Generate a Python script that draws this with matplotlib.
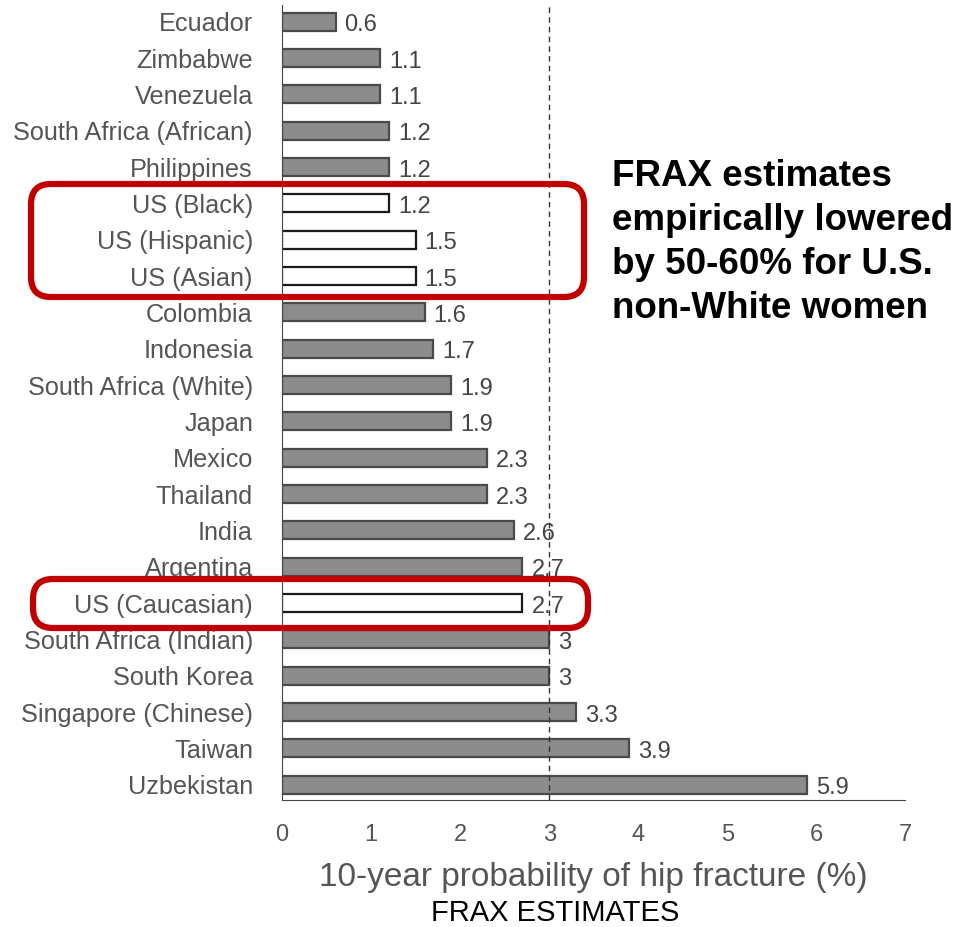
import matplotlib
matplotlib.use("Agg")
import matplotlib.pyplot as plt
from matplotlib.patches import FancyBboxPatch

plt.rcParams['font.family'] = ['Liberation Sans', 'DejaVu Sans']

# FRAX 10-year hip fracture probability by country / group
countries = ["Ecuador", "Zimbabwe", "Venezuela", "South Africa (African)", "Philippines",
             "US (Black)", "US (Hispanic)", "US (Asian)", "Colombia", "Indonesia",
             "South Africa (White)", "Japan", "Mexico", "Thailand", "India", "Argentina",
             "US (Caucasian)", "South Africa (Indian)", "South Korea", "Singapore (Chinese)",
             "Taiwan", "Uzbekistan"]
values = [0.6, 1.1, 1.1, 1.2, 1.2, 1.2, 1.5, 1.5, 1.6, 1.7, 1.9, 1.9, 2.3, 2.3, 2.6,
          2.7, 2.7, 3, 3, 3.3, 3.9, 5.9]
value_labels = ["0.6", "1.1", "1.1", "1.2", "1.2", "1.2", "1.5", "1.5", "1.6", "1.7", "1.9",
                "1.9", "2.3", "2.3", "2.6", "2.7", "2.7", "3", "3", "3.3", "3.9", "5.9"]
us_groups = ["US (Black)", "US (Hispanic)", "US (Asian)", "US (Caucasian)"]

fig = plt.figure(figsize=(9.63, 9.27), dpi=100)
ax = fig.add_axes([0.293, 0.137, 0.647, 0.858])

pos = list(range(len(countries)))
faces = ["white" if c in us_groups else "#8c8c8c" for c in countries]
edges = ["#1a1a1a" if c in us_groups else "#4a4a4a" for c in countries]
ax.barh(pos, values, height=0.5, color=faces, edgecolor=edges, linewidth=1.6, zorder=2)

for p, v, lab in zip(pos, values, value_labels):
    ax.text(v + 0.1, p + 0.1, lab, va="center", ha="left", fontsize=17, color="#444444", zorder=1)

ax.axvline(3, color="#333333", linestyle=(0, (4, 3)), linewidth=1, zorder=3)

ax.set_xlim(0, 7)
ax.set_ylim(21.42, -0.47)
ax.set_yticks(pos)
ax.set_yticklabels(countries, fontsize=18.2, color="#555555")
ax.set_xticks(range(8))
ax.tick_params(axis="x", labelsize=17, labelcolor="#555555", length=0, pad=17)
ax.tick_params(axis="y", length=0, pad=21)
ax.spines["top"].set_visible(False)
ax.spines["right"].set_visible(False)
ax.spines["left"].set_color("#444444")
ax.spines["bottom"].set_color("#444444")
ax.set_xlabel("10-year probability of hip fracture (%)", fontsize=24, color="#555555", labelpad=12)

fig.text(555 / 963, 1 - 913 / 927, "FRAX ESTIMATES", ha="center", va="center",
         fontsize=21, color="black")

fig.text(612 / 963, 1 - 159 / 927,
         "FRAX estimates\nempirically lowered\nby 50-60% for U.S.\nnon-White women",
         ha="left", va="top", fontsize=26.5, fontweight="bold", color="black", linespacing=1.33)

# red highlight boxes, in inches from the lower-left corner
for x0, x1, y0, y1 in [(0.31, 5.84, 6.30, 7.43), (0.33, 5.88, 2.99, 3.48)]:
    box = FancyBboxPatch((x0, y0), x1 - x0, y1 - y0,
                         boxstyle="round,pad=0,rounding_size=0.2",
                         transform=fig.dpi_scale_trans, fill=False,
                         edgecolor="#c00000", linewidth=4.5, zorder=10)
    fig.add_artist(box)

fig.savefig("out.png", dpi=100)
